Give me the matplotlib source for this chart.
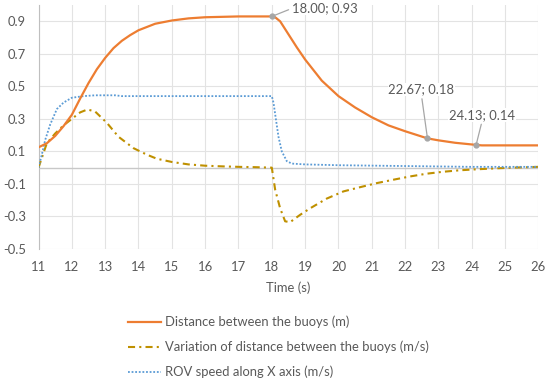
import matplotlib
matplotlib.use('Agg')
import matplotlib.pyplot as plt

plt.rcParams['font.family'] = ['Lato', 'DejaVu Sans']

# Distance between the buoys (m)
t_dist = [11, 11.25, 11.5, 11.75, 12, 12.25, 12.5, 12.75, 13, 13.25, 13.5, 13.75, 14, 14.5,
          15, 15.5, 16, 17, 18, 18.1, 18.25, 18.5, 18.75, 19, 19.5, 20, 20.5,
          21, 21.5, 22, 22.67, 23, 23.5, 24.13, 24.3, 25, 26]
dist = [0.125, 0.15, 0.195, 0.255, 0.325, 0.425, 0.52, 0.605, 0.675, 0.735, 0.78, 0.815, 0.845, 0.885,
        0.905, 0.918, 0.925, 0.93, 0.93, 0.925, 0.90, 0.82, 0.74, 0.665, 0.535, 0.44, 0.37,
        0.31, 0.26, 0.224, 0.18, 0.168, 0.153, 0.14, 0.137, 0.137, 0.137]

# Variation of distance between the buoys (m/s)
t_var = [11, 11.25, 11.5, 11.75, 12, 12.25, 12.47, 12.7, 13.05, 13.4, 13.85, 14.25, 14.55,
         15, 15.5, 16, 16.5, 17, 17.5, 18, 18.1, 18.25, 18.4, 18.55, 18.85, 19.15, 19.65,
         20.15, 20.65, 21.15, 21.65, 22.15, 22.65, 23.15, 23.65, 24.15, 24.65, 25.2, 26]
var = [0, 0.15, 0.21, 0.26, 0.30, 0.34, 0.358, 0.345, 0.276, 0.19, 0.12, 0.08, 0.055,
       0.035, 0.02, 0.012, 0.008, 0.005, 0.003, 0.0, -0.135, -0.25, -0.33, -0.335, -0.29, -0.25, -0.19,
       -0.146, -0.12, -0.095, -0.074, -0.054, -0.037, -0.025, -0.016, -0.01, -0.005, 0.0, 0.005]

# ROV speed along X axis (m/s)
t_rov = [11, 11.1, 11.2, 11.35, 11.55, 11.75, 12, 12.35, 12.7, 13.3, 13.5, 18, 18.05,
         18.1, 18.2, 18.3, 18.45, 18.6, 19, 20, 22, 24, 26]
rov = [0, 0.08, 0.17, 0.265, 0.36, 0.40, 0.43, 0.44, 0.445, 0.445, 0.44, 0.44, 0.40,
       0.33, 0.19, 0.10, 0.04, 0.025, 0.02, 0.015, 0.01, 0.005, 0.005]

labels = ['Distance between the buoys (m)',
          'Variation of distance between the buoys (m/s)',
          'ROV speed along X axis (m/s)']
marked_t = [18.00, 22.67, 24.13]
marked_v = [0.93, 0.18, 0.14]

grey = '#595959'
fs = 9.4
fig = plt.figure(figsize=(5.5, 3.89), dpi=100)
ax = fig.add_axes([0.07, 0.36, 0.909, 0.627])

ax.plot(t_dist, dist, color='#ED7D31', lw=1.6, label=labels[0], zorder=4)
ax.plot(t_var, var, color='#BF9000', lw=1.5, linestyle=(0, (3.4, 2, 1, 2)),
        label=labels[1], zorder=3)
ax.plot(t_rov, rov, color='#5B9BD5', lw=1.3, linestyle=(0, (1, 1)),
        label=labels[2], zorder=3)

ax.set_xlim(11, 26)
ax.set_ylim(-0.5, 1.0)
ax.set_xticks(range(11, 27))
ax.set_yticks([-0.5, -0.3, -0.1, 0.1, 0.3, 0.5, 0.7, 0.9])
ax.set_yticklabels(['-0.5', '-0.3', '-0.1', '0.1', '0.3', '0.5', '0.7', '0.9'])
ax.tick_params(length=0, labelsize=fs, colors=grey, pad=9)
ax.grid(True, color='#e3e3e3', lw=0.8)
ax.set_axisbelow(True)
for s in ['top', 'right', 'bottom']:
    ax.spines[s].set_visible(False)
ax.spines['left'].set_color('#bfbfbf')
ax.axhline(0, color='#c8c8c8', lw=1.0, zorder=2)
ax.set_xlabel('Time (s)', fontsize=fs, color=grey, labelpad=6)

# data labels
offsets = [(20, 8), (-6, 43), (6, 24)]
rel = [(0, 0.5), (0.5, 0), (0.5, 0)]
ha = ['left', 'center', 'center']
for (x, y), off, rp, h in zip(zip(marked_t, marked_v), offsets, rel, ha):
    ax.plot(x, y, 'o', color='#a6a6a6', ms=3.5, zorder=5)
    ax.annotate(f'{x:.2f}; {y:.2f}', xy=(x, y), xytext=off, textcoords='offset pixels',
                ha=h, va='center' if h == 'left' else 'bottom', fontsize=fs, color=grey,
                arrowprops=dict(arrowstyle='-', color='#a6a6a6', lw=0.9,
                                relpos=rp, shrinkA=2, shrinkB=0),
                bbox=dict(facecolor='white', edgecolor='none', pad=0.5), zorder=6)

fig.legend(loc='upper left', bbox_to_anchor=(0.2327, 0.188), frameon=False,
           fontsize=fs, labelcolor=grey, handlelength=2.5, handletextpad=0.3,
           labelspacing=0.95, borderpad=0, borderaxespad=0)

fig.savefig('out.png', dpi=100)
